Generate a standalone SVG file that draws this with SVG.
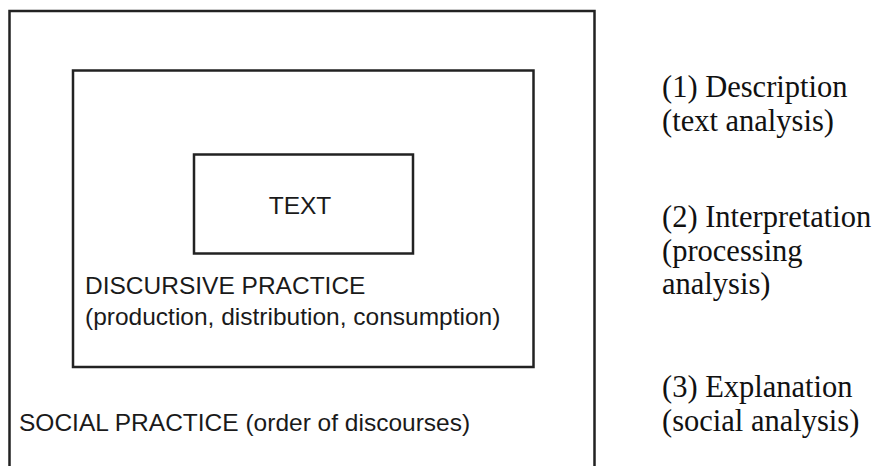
<svg xmlns="http://www.w3.org/2000/svg" width="881" height="466" viewBox="0 0 881 466">
<style>
.box{fill:none;stroke:#222;stroke-width:2.5}
.sans{font-family:"Liberation Sans",Arial,sans-serif;font-size:24.5px;fill:#1a1a1a}
.serif{font-family:"Liberation Serif","Times New Roman",serif;font-size:30.5px;fill:#111}
</style>
<rect width="881" height="466" fill="#fff"/>
<g id="social-practice">
<path class="box" d="M9.5,466 V11 H594.5 V466"/>
<text class="sans" x="19" y="431">SOCIAL PRACTICE (order of discourses)</text>
</g>
<g id="discursive-practice">
<rect class="box" x="73" y="70.5" width="460.5" height="296.5"/>
<text class="sans" x="85" y="294">DISCURSIVE PRACTICE</text>
<text class="sans" x="85" y="325">(production, distribution, consumption)</text>
</g>
<g id="text">
<rect class="box" x="194" y="154.5" width="219" height="99"/>
<text class="sans" x="300" y="214" text-anchor="middle">TEXT</text>
</g>
<g id="labels">
<text class="serif" x="662" y="97">(1) Description</text>
<text class="serif" x="662" y="131">(text analysis)</text>
<text class="serif" x="662" y="227">(2) Interpretation</text>
<text class="serif" x="662" y="261">(processing</text>
<text class="serif" x="662" y="294">analysis)</text>
<text class="serif" x="662" y="397">(3) Explanation</text>
<text class="serif" x="662" y="431">(social analysis)</text>
</g>
<g id="connectors"/>
</svg>
